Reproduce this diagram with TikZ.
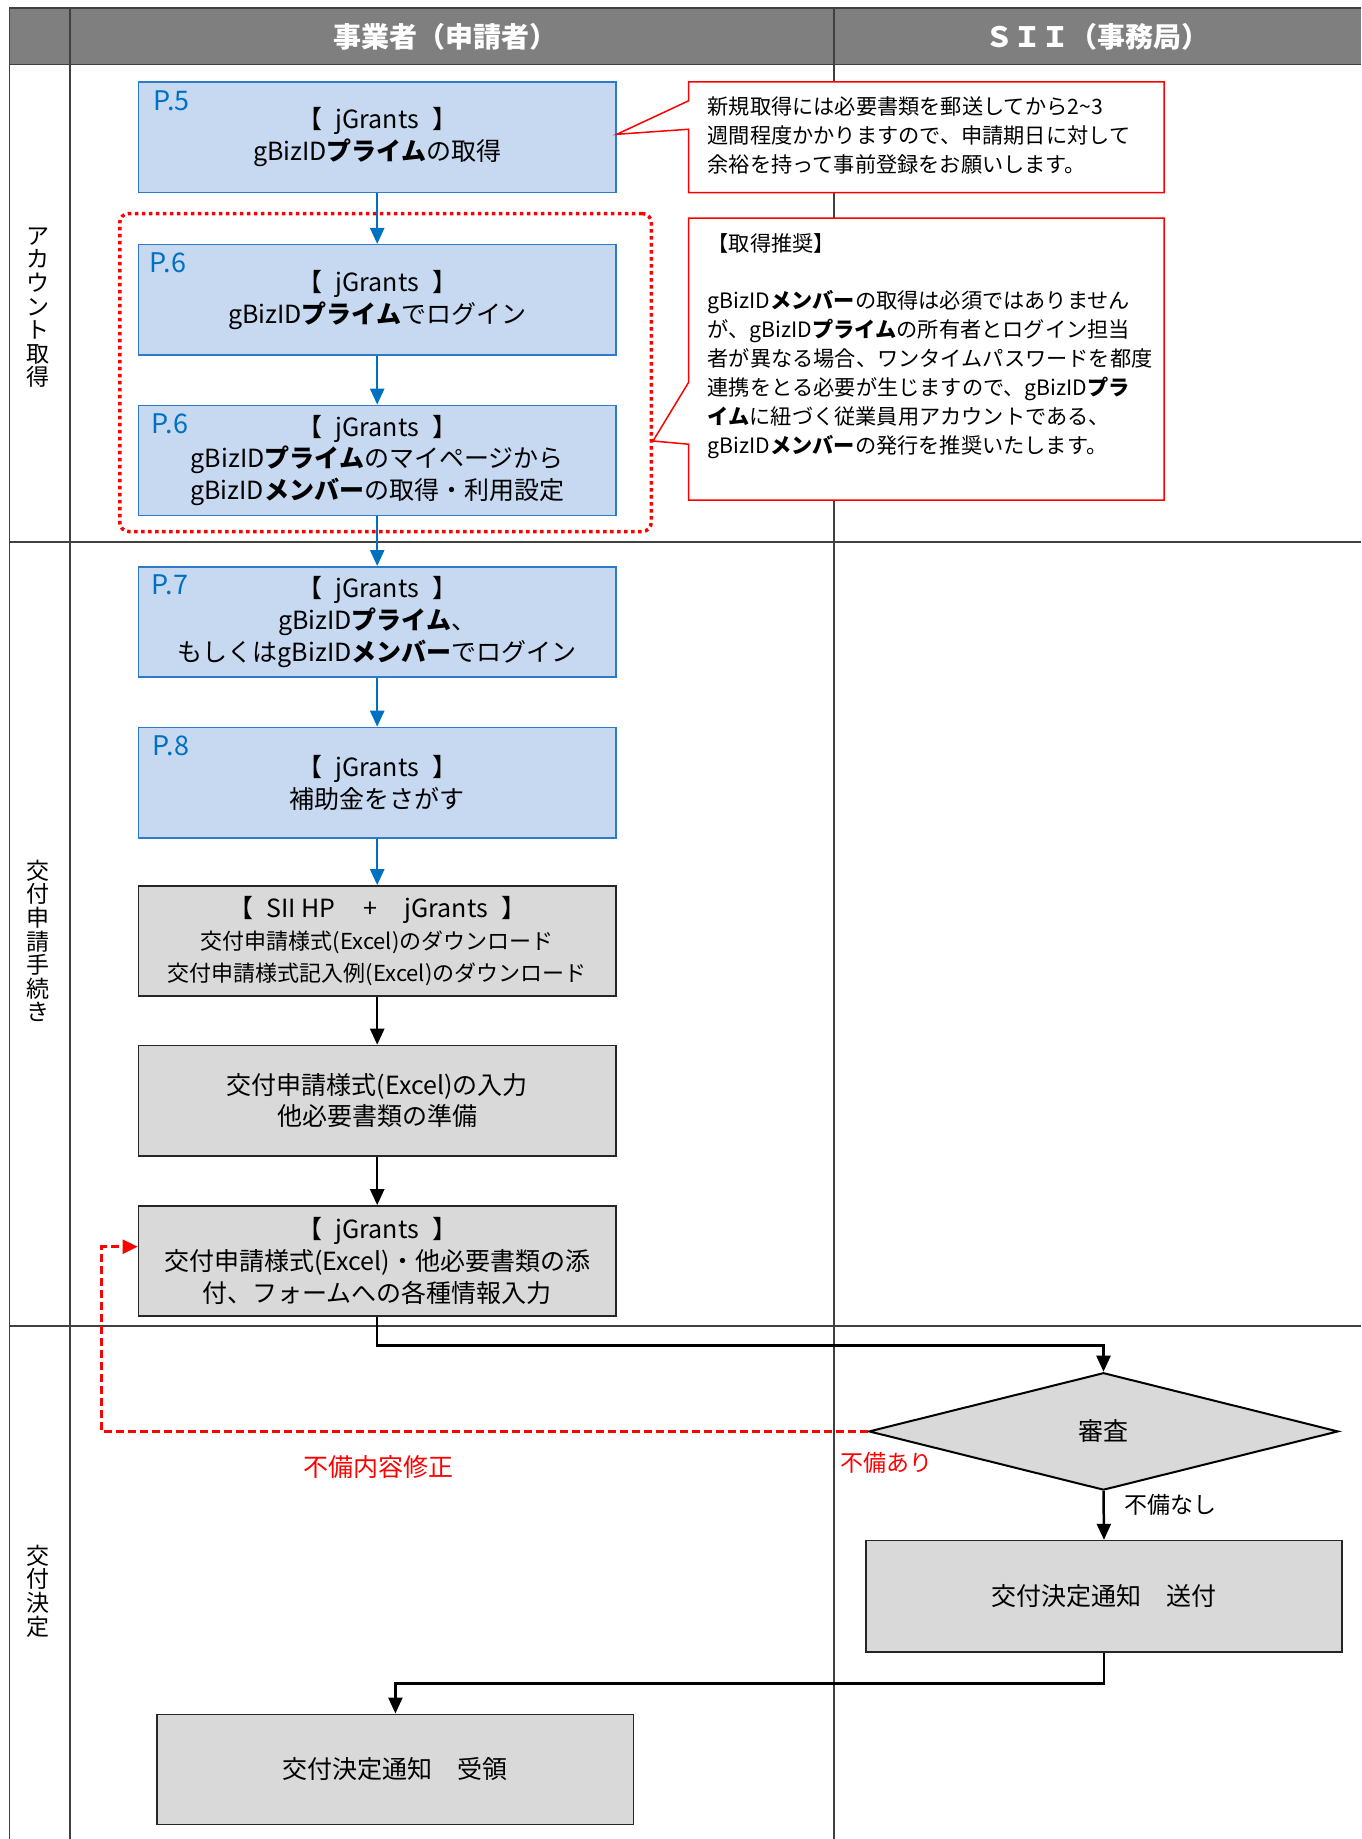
\documentclass[tikz,border=0pt]{standalone}
\usepackage{fontspec}
\setmainfont{Noto Sans CJK JP}
\usetikzlibrary{arrows.meta,shapes.geometric,calc}
\definecolor{hdrgray}{RGB}{127,127,127}
\definecolor{gridc}{RGB}{64,64,64}
\definecolor{bfill}{RGB}{198,217,241}
\definecolor{bline}{RGB}{46,122,200}
\definecolor{bblue}{RGB}{0,112,192}
\definecolor{gfill}{RGB}{217,217,217}
\definecolor{rred}{RGB}{255,0,0}
\newcommand{\jg}{【\hspace{0.54em}jGrants\hspace{0.54em}】}
\begin{document}
\begin{tikzpicture}[x=1pt,y=-1pt,
  bluebox/.style={draw=bline, fill=bfill, line width=1.5pt, minimum width=477.6pt, minimum height=110.3pt, inner sep=0pt, align=center, font=\fontsize{25}{31.7}\selectfont},
  graybox/.style={draw=black!85, fill=gfill, line width=1.5pt, minimum width=477.6pt, minimum height=110.3pt, inner sep=0pt, align=center, font=\fontsize{25}{31.7}\selectfont},
  plabel/.style={anchor=west, text=bblue, inner sep=0pt, font=\fontsize{27}{30}\selectfont},
  barrow/.style={draw=bblue, line width=2.5pt, -{Triangle[length=16pt,width=14pt]}},
  karrow/.style={draw=black, line width=2.5pt, -{Triangle[length=16pt,width=14pt]}},
  redarrow/.style={draw=rred, line width=2.5pt, dash pattern=on 8pt off 4pt, -{Triangle[length=15pt,width=14pt]}},
  callout/.style={draw=rred, fill=white, line width=1.5pt, line join=miter},
  calltext/.style={anchor=west, align=left, inner sep=0pt, font=\fontsize{21.2}{29}\selectfont},
  lanelbl/.style={align=center, inner sep=0pt, font=\fontsize{23}{23.6}\selectfont},
  hdr/.style={text=white, inner sep=0pt, font=\bfseries\fontsize{28}{30}\selectfont},
  redlbl/.style={text=rred, inner sep=0pt},
  gridline/.style={draw=gridc, line width=1.8pt}
]
\useasboundingbox (0,0) rectangle (1361,1839);
\fill[white] (0,0) rectangle (1361,1839);

% header and grid
\fill[hdrgray] (9.4,8) rectangle (1361,64.5);
\draw[gridline] (9.4,8) -- (1361,8);
\draw[gridline] (9.4,64.5) -- (1361,64.5);
\draw[gridline] (9.4,8) -- (9.4,1839);
\draw[gridline] (70,8) -- (70,1839);
\draw[draw=gridc, line width=1.3pt] (834,8) -- (834,1839);
\draw[gridline] (9.4,542) -- (1361,542);
\draw[gridline] (9.4,1326) -- (1361,1326);

\node[hdr] (h1) at (445,37) {事業者（申請者）};
\node[hdr] (h2) at (1097,37) {ＳＩＩ（事務局）};

\node[lanelbl] (l1) at (38,307.6) {ア\\カ\\ウ\\ン\\ト\\取\\得};
\node[lanelbl] (l2) at (38,941) {交\\付\\申\\請\\手\\続\\き};
\node[lanelbl] (l3) at (38,1591) {交\\付\\決\\定};

% dotted group
\node[draw=rred, line width=3.5pt, dash pattern=on 3.5pt off 3.5pt, rounded corners=9pt, minimum width=531.5pt, minimum height=318pt, inner sep=0pt] (dr) at (385.5,372.5) {};

% boxes
\node[bluebox] (b1) at (377.2,137.3) {\jg\\gBizID\textbf{プライム}の取得};
\node[bluebox] (b2) at (377.2,299.8) {\jg\\gBizID\textbf{プライム}でログイン};
\node[bluebox] (b3) at (377.2,460.5) {\jg\\gBizID\textbf{プライム}のマイページから\\gBizID\textbf{メンバー}の取得・利用設定};
\node[bluebox] (b4) at (377.2,621.9) {\jg\\gBizID\textbf{プライム}、\\もしくはgBizID\textbf{メンバー}でログイン};
\node[bluebox] (b5) at (377.2,782.6) {\jg\\補助金をさがす};
\node[graybox] (b6) at (377.2,941) {【\hspace{0.54em}SII HP\hspace{1.1em}+\hspace{1.1em}jGrants\hspace{0.54em}】\\{\fontsize{22}{29}\selectfont 交付申請様式(Excel)のダウンロード}\\{\fontsize{22}{29}\selectfont 交付申請様式記入例(Excel)のダウンロード}};
\node[graybox] (b7) at (377.2,1100.6) {交付申請様式(Excel)の入力\\他必要書類の準備};
\node[graybox] (b8) at (377.2,1261) {\jg\\交付申請様式(Excel)・他必要書類の添\\付、フォームへの各種情報入力};
\node[draw=black, fill=gfill, line width=2pt, shape=diamond, minimum width=469.4pt, minimum height=117.4pt, inner sep=0pt, font=\fontsize{25}{30}\selectfont] (dm) at (1103.5,1431.4) {審査};
\node[graybox, minimum width=476.3pt, minimum height=111.5pt] (b9) at (1104,1596.3) {交付決定通知　送付};
\node[graybox, minimum width=476.4pt] (b10) at (395.4,1769.4) {交付決定通知　受領};

% page labels
\node[plabel] (p1) at ([xshift=15.5pt,yshift=-19pt]b1.north west) {P.5};
\node[plabel] (p2) at ([xshift=12pt,yshift=-19pt]b2.north west) {P.6};
\node[plabel] (p3) at ([xshift=14pt,yshift=-19pt]b3.north west) {P.6};
\node[plabel] (p4) at ([xshift=14pt,yshift=-19pt]b4.north west) {P.7};
\node[plabel] (p5) at ([xshift=15pt,yshift=-19pt]b5.north west) {P.8};

% callouts
\node[minimum width=475.2pt, minimum height=110.3pt, inner sep=0pt] (c1) at (926.3,137.3) {};
\draw[callout] (c1.north west) -- (c1.north east) -- (c1.south east) -- (c1.south west) -- ($(c1.south west)+(0,-63.4)$) -- ([yshift=3pt]b1.east) -- ($(c1.north west)+(0,18.9)$) -- cycle;
\node[calltext] (t1) at ([xshift=19pt,yshift=2pt]c1.west) {新規取得には必要書類を郵送してから2\textasciitilde 3\\週間程度かかりますので、申請期日に対して\\余裕を持って事前登録をお願いします。};

\node[minimum width=475.2pt, minimum height=281.6pt, inner sep=0pt] (c2) at (926.3,359) {};
\draw[callout] (c2.north west) -- (c2.north east) -- (c2.south east) -- (c2.south west) -- ($(c2.south west)+(0,-55.8)$) -- ([yshift=-68.5pt]dr.east) -- ($(c2.north west)+(0,164.5)$) -- cycle;
\node[calltext, anchor=north west] (t2) at (707.5,233) {【取得推奨】\\[28.8pt]gBizID\textbf{メンバー}の取得は必須ではありません\\が、gBizID\textbf{プライム}の所有者とログイン担当\\者が異なる場合、ワンタイムパスワードを都度\\連携をとる必要が生じますので、gBizID\textbf{プラ}\\\textbf{イム}に紐づく従業員用アカウントである、\\gBizID\textbf{メンバー}の発行を推奨いたします。};

% connectors
\draw[barrow] (b1.south) -- (b2.north);
\draw[barrow] (b2.south) -- (b3.north);
\draw[barrow] (b3.south) -- (b4.north);
\draw[barrow] (b4.south) -- (b5.north);
\draw[barrow] (b5.south) -- (b6.north);
\draw[karrow] (b6.south) -- (b7.north);
\draw[karrow] (b7.south) -- (b8.north);
\draw[karrow] (b8.south) -- ++(0,28.8) -| (dm.north);
\draw[karrow] (dm.south) -- (b9.north);
\draw[karrow] (b9.south) -- ++(0,30.5) -| (b10.north);
\coordinate (fixl) at (101.7,1246.7);
\draw[redarrow] (dm.west) -| (fixl) -- ([yshift=14.3pt]b8.west);

% labels
\node[redlbl, font=\fontsize{25}{30}\selectfont] (lb1) at (378,1467) {不備内容修正};
\node[redlbl, anchor=west, font=\fontsize{23}{28}\selectfont] (lb2) at (840,1463) {不備あり};
\node[anchor=west, inner sep=0pt, font=\fontsize{23}{28}\selectfont] (lb3) at (1124,1505) {不備なし};
\end{tikzpicture}
\end{document}
